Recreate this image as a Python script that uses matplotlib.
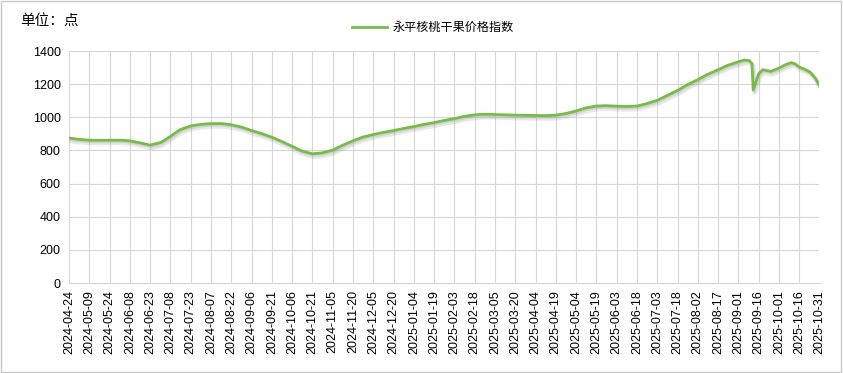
#!/usr/bin/env python3
"""Yongping walnut dried fruit price index, line chart."""

import matplotlib
matplotlib.use("Agg")
import matplotlib.dates as mdates
import matplotlib.patheffects as pe
import matplotlib.pyplot as plt
from matplotlib.lines import Line2D
import pandas as pd

plt.rcParams["font.family"] = ["Liberation Sans", "Noto Sans CJK SC", "DejaVu Sans"]

series_name = "永平核桃干果价格指数"
unit_label = "单位：点"

dates = [
    "2024-04-24", "2024-05-01", "2024-05-09", "2024-05-16", "2024-05-24", "2024-06-01",
    "2024-06-08", "2024-06-16", "2024-06-23", "2024-07-01", "2024-07-08", "2024-07-15",
    "2024-07-23", "2024-07-31", "2024-08-07", "2024-08-15", "2024-08-22", "2024-08-30",
    "2024-09-06", "2024-09-14", "2024-09-21", "2024-09-28", "2024-10-06", "2024-10-13",
    "2024-10-21", "2024-10-28", "2024-11-05", "2024-11-12", "2024-11-20", "2024-11-27",
    "2024-12-05", "2024-12-12", "2024-12-20", "2024-12-27", "2025-01-04", "2025-01-11",
    "2025-01-19", "2025-01-26", "2025-02-03", "2025-02-10", "2025-02-18", "2025-02-25",
    "2025-03-05", "2025-03-12", "2025-03-20", "2025-03-27", "2025-04-04", "2025-04-11",
    "2025-04-19", "2025-04-26", "2025-05-04", "2025-05-11", "2025-05-19", "2025-05-26",
    "2025-06-03", "2025-06-10", "2025-06-18", "2025-06-25", "2025-07-03", "2025-07-10",
    "2025-07-18", "2025-07-25", "2025-08-02", "2025-08-09", "2025-08-17", "2025-08-24",
    "2025-09-01", "2025-09-05", "2025-09-09", "2025-09-11", "2025-09-12", "2025-09-14",
    "2025-09-16", "2025-09-19", "2025-09-25", "2025-10-01", "2025-10-06", "2025-10-10",
    "2025-10-13", "2025-10-16", "2025-10-20", "2025-10-24", "2025-10-28", "2025-10-31",
]
values = [
    875, 867, 862, 861, 862, 862,
    858, 845, 832, 848, 885, 925,
    948, 958, 962, 962, 955, 940,
    920, 900, 880, 855, 825, 797,
    780, 785, 802, 830, 858, 880,
    896, 908, 920, 932, 944, 956,
    968, 980, 992, 1005, 1015, 1018,
    1017, 1015, 1013, 1012, 1011, 1010,
    1013, 1022, 1038, 1056, 1068, 1070,
    1067, 1065, 1068, 1082, 1102, 1130,
    1162, 1195, 1227, 1258, 1287, 1313,
    1335, 1345, 1343, 1325, 1165, 1215,
    1263, 1287, 1277, 1297, 1318, 1330,
    1322, 1303, 1290, 1273, 1235, 1190,
]
y_ticks = [0, 200, 400, 600, 800, 1000, 1200, 1400]

x = pd.to_datetime(dates)
start, end = x[0], x[-1]
x_ticks = pd.date_range(start, end, freq="15D")

fig = plt.figure(figsize=(8.43, 3.73), dpi=100)
ax = fig.add_axes([69 / 843, 1 - 283 / 373, (819.5 - 69) / 843, (283 - 51) / 373])

# outer frame of the chart card
fig.patches.append(
    plt.Rectangle((0.001, 0.002), 0.997, 0.995, transform=fig.transFigure,
                  fill=False, edgecolor="#c8c8c8", linewidth=1.0)
)

green = "#78bb47"
ax.plot(
    x, values, color=green, linewidth=2.0, solid_joinstyle="round",
    path_effects=[
        pe.SimpleLineShadow(offset=(1.0, -2.0), shadow_color="#999999", alpha=0.22, linewidth=3.5),
        pe.SimpleLineShadow(offset=(0.8, -1.2), shadow_color="#888888", alpha=0.22, linewidth=2.0),
        pe.Normal(),
    ],
    zorder=3,
)

ax.set_xlim(start, end)
ax.set_ylim(0, 1400)
ax.set_yticks(y_ticks)
ax.set_xticks(x_ticks)
ax.xaxis.set_major_formatter(mdates.DateFormatter("%Y-%m-%d"))
plt.setp(ax.get_xticklabels(), rotation=90, ha="center", va="top")
ax.tick_params(axis="both", length=0, labelsize=9, colors="#000000")
ax.tick_params(axis="x", pad=5)
ax.tick_params(axis="y", pad=6)

ax.grid(True, color="#d6d6d6", linewidth=0.8)
ax.set_axisbelow(True)
for side in ("top", "right", "left"):
    ax.spines[side].set_visible(False)
ax.spines["bottom"].set_color("#d6d6d6")

fig.text(20 / 843, 1 - 22 / 373, unit_label, fontsize=10.5, va="center", ha="left")

handle = Line2D([], [], color=green, linewidth=2.0)
ax.legend([handle], [series_name], loc="center", bbox_to_anchor=(433 / 843, 1 - 28 / 373),
          bbox_transform=fig.transFigure, frameon=False, fontsize=8.7,
          handlelength=2.9, handletextpad=0.5)

fig.savefig("out.png", dpi=100)
